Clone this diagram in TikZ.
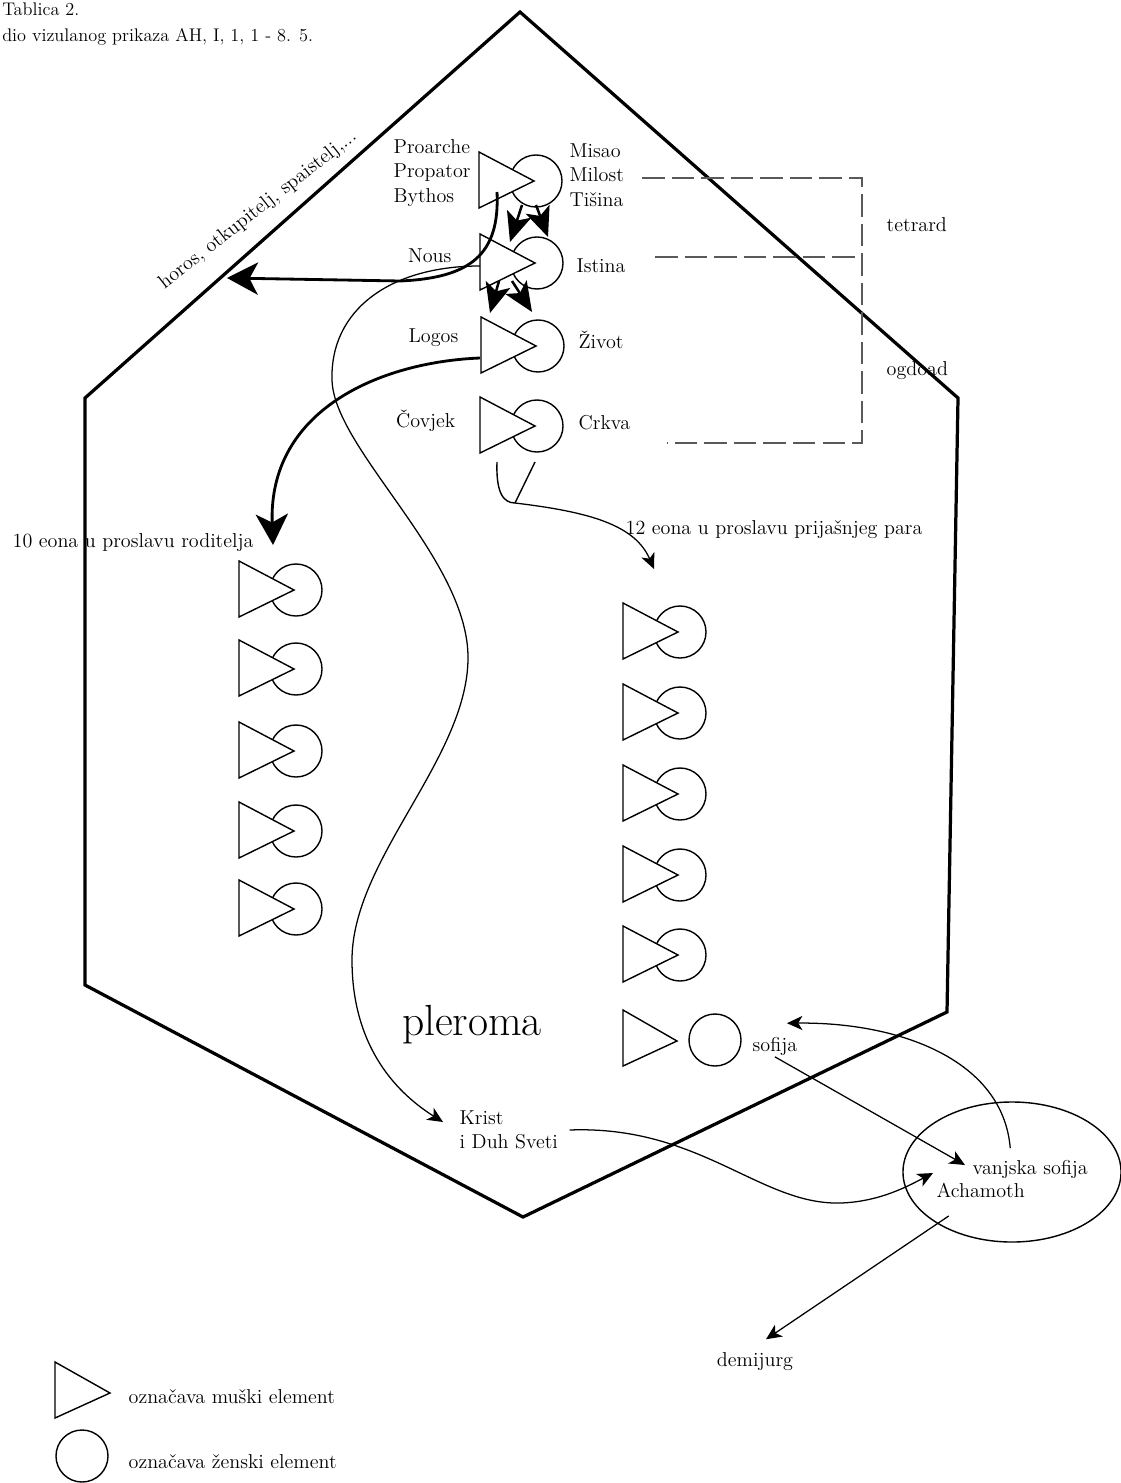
\documentclass[tikz,border=0pt]{standalone}
\usepackage{fontspec}
\usepackage{tikz}
\usetikzlibrary{calc}
\usetikzlibrary{arrows.meta}
\usetikzlibrary{shapes.geometric}

\tikzset{
  hexline/.style={line width=2.3pt, line join=miter},
  shapeline/.style={line width=1pt},
  thinarr/.style={line width=0.9pt, -{Stealth[length=11pt,width=10pt,inset=3pt]}},
  thickarr/.style={line width=2pt, -{Stealth[length=22pt,width=23pt,inset=6pt]}},
  pairarr/.style={line width=1.8pt, -{Stealth[length=21pt,width=18pt,inset=5pt]}},
  bracket/.style={black!65, line width=1.4pt, dash pattern=on 16pt off 5pt},
  lbl/.style={inner sep=1pt},
  zcirc/.style={circle, draw, shapeline, minimum size=1.3cm, inner sep=0pt},
  eon/.pic={
    \node[zcirc] (-c) at (0,0) {};
    \draw[shapeline, fill=white] (-57,-29) -- (-57,27) -- (-2,0) -- cycle;
  }
}

\begin{document}
\begin{tikzpicture}[x=0.025cm, y=-0.025cm, font=\fontsize{14.3}{17.4}\selectfont]
\useasboundingbox (0,0) rectangle (1120,1483);

\node[anchor=north west, align=left, font=\fontsize{13}{18.4}\selectfont, inner sep=0pt] (title) at (2,3) {Tablica 2.\\dio vizulanog prikaza AH, I, 1, 1 - 8. 5.};

\draw[hexline] (520,12) -- (958,398) -- (947,1012) -- (523,1217) -- (85,985) -- (85,398) -- cycle;

\pic (bythos) at (536,181) {eon};
\pic (nous) at (537,263) {eon};
\pic (logos) at (538,346) {eon};
\pic (covjek) at (537,426) {eon};
\foreach \y in {590,669,751,831,909} \pic (l\y) at (296,\y) {eon};
\foreach \y in {632,713,794,875,955} \pic (r\y) at (680,\y) {eon};
\node[zcirc] (sofc) at (715,1040) {};
\draw[shapeline] (623,1010) -- (623,1066) -- (677,1041) -- cycle;
\node[draw, shapeline, ellipse, minimum width=5.45cm, minimum height=3.5cm] (acham) at (1012,1172) {};

\node[lbl, anchor=west, align=left] (proarche) at (392,173) {Proarche\\Propator\\Bythos};
\node[lbl, anchor=west, align=left] (misao) at (568,175) {Misao\\Milost\\Tišina};
\node[lbl, anchor=east] (nouslbl) at (453,256) {Nous};
\node[lbl, anchor=west] (istina) at (575,266) {Istina};
\node[lbl, anchor=east] (logoslbl) at (460,338) {Logos};
\node[lbl, anchor=west] (zivot) at (577,340) {Život};
\node[lbl, anchor=east] (covjeklbl) at (457,421) {Čovjek};
\node[lbl, anchor=west] (crkva) at (577,423) {Crkva};
\node[lbl, anchor=west] (tetrard) at (885,225) {tetrard};
\node[lbl, anchor=west] (ogdoad) at (885,371) {ogdoad};
\node[lbl, anchor=west] (deset) at (11,543) {10 eona u proslavu roditelja};
\node[lbl, anchor=west] (dvanaest) at (624,530) {12 eona u proslavu prijašnjeg para};
\node[lbl, rotate=38] (horos) at (258,210) {horos, otkupitelj, spaistelj,...};
\node[font=\fontsize{31}{36}\selectfont] (pleroma) at (472,1025) {pleroma};
\node[lbl, anchor=west] (sofija) at (751,1046) {sofija};
\node[lbl, anchor=west, align=left] (krist) at (458,1130) {Krist\\i Duh Sveti};
\node[lbl, anchor=west] (vanjska) at (971,1169) {vanjska sofija};
\node[lbl, anchor=west] (achamoth) at (935,1190) {Achamoth};
\node[lbl] (demijurg) at (755,1362) {demijurg};

\coordinate (horosend) at (227,278);
\coordinate (desetend) at (273,545);
\coordinate (spoj) at (515,503);
\coordinate (dvanaestend) at (654,569);

\draw[bracket] (642,178) -- (862,178) -- (862,443) -- (667,443);
\draw[bracket] (655,257) -- (862,257);

\draw[pairarr] ($(bythos-c)+(-14,24)$) -- ($(nous-c)+(-27,-21)$);
\draw[pairarr] ($(bythos-c)+(0,24)$) -- ($(nous-c)+(11,-26)$);
\draw[pairarr] ($(nous-c)+(-38,18)$) -- ($(logos-c)+(-48,-33)$);
\draw[pairarr] ($(nous-c)+(-25,18)$) -- ($(logos-c)+(-6,-34)$);

\draw[thickarr] ($(bythos-c)+(-39,11)$) .. controls (500,255) and (470,278) .. (400,281) -- (horosend);
\draw[thickarr] ($(logos-c)+(-58,12)$) .. controls (380,362) and (268,410) .. (desetend);

\draw[thinarr] ($(nous-c)+(-57,3)$) .. controls (390,266) and (330,310) .. (332,380) .. controls (334,450) and (470,560) .. (468,660) .. controls (466,760) and (352,860) .. (352,960) .. controls (352,1050) and (400,1095) .. ($(krist.west)+(-15,-8)$);

\draw[shapeline] ($(covjek-c)+(-40,36)$) .. controls (496,490) and (502,503) .. (spoj);
\draw[shapeline] ($(covjek-c)+(-2,36)$) -- (spoj);
\draw[thinarr] (spoj) .. controls (590,512) and (635,525) .. (dvanaestend);

\draw[thinarr] (sofija.south) -- ($(vanjska.west)+(-6,-4)$);
\draw[thinarr] ($(vanjska.north)+(-20,-10)$) .. controls (1003,1060) and (900,1022) .. ($(sofija.north)+(12,-12)$);
\draw[thinarr] ($(krist.east)+(10,0)$) .. controls (700,1125) and (760,1205) .. (840,1203) .. controls (880,1202) and (910,1185) .. ($(achamoth.north west)+(-2,-8)$);
\draw[thinarr] ($(achamoth.south)+(-32,17)$) -- ($(demijurg.north)+(11,-12)$);

\draw[shapeline] (55,1362) -- (55,1418) -- (110,1393) -- cycle;
\node[zcirc] (legc) at (82,1456) {};
\node[lbl, anchor=west] (muski) at (127,1397) {označava muški element};
\node[lbl, anchor=west] (zenski) at (127,1462) {označava ženski element};
\end{tikzpicture}
\end{document}
